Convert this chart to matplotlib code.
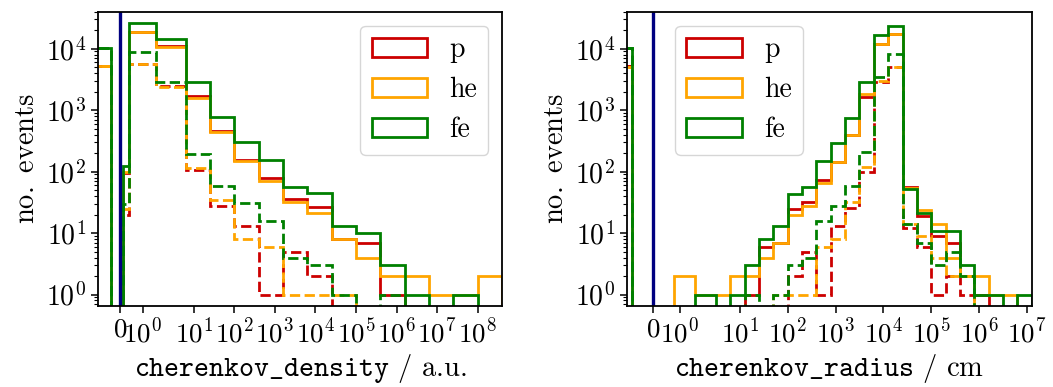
import numpy as np
import matplotlib
matplotlib.use("Agg")
import matplotlib.pyplot as plt

plt.rcParams["font.family"] = "serif"
plt.rcParams["font.serif"] = ["cmr10"]
plt.rcParams["mathtext.fontset"] = "cm"
plt.rcParams["axes.formatter.use_mathtext"] = True

## bin edges (data units), negative bin holds the -1 "no cherenkov" events
density_edges = [-1.585, -0.398, 0.1, 0.398, 1.585, 6.31, 25.1, 100, 398, 1585,
                 6310, 25119, 1e5, 3.98e5, 1.585e6, 6.31e6, 2.51e7, 1e8, 3.98e8]
radius_edges = [-1.585, -0.794, 0.794, 1.585, 3.16, 6.31, 12.6, 25.1, 50.1, 100,
                200, 398, 794, 1585, 3162, 6310, 12589, 25119, 50119, 1e5,
                2e5, 3.98e5, 7.94e5, 1.585e6, 3.16e6, 6.31e6, 1.26e7]

## cherenkov_density counts, solid = all events, dashed = selected events
density_p = [5300, 0, 95, 19000, 10900, 1690, 460, 155, 78, 36, 27, 8, 7, 1, 0, 0, 0, 0]
density_he = [5200, 0, 100, 18700, 10500, 1600, 447, 150, 71, 32, 21, 8, 4, 2, 2, 1, 1, 2]
density_fe = [10200, 0, 124, 26500, 14400, 2860, 776, 307, 154, 57, 45, 13, 10, 3, 1, 0, 1, 0]
density_p_sel = [5300, 0, 20, 5700, 2450, 106, 28, 13, 1, 5, 2, 0, 0, 0, 0, 0, 0, 0]
density_he_sel = [5200, 0, 25, 5690, 2400, 114, 35, 8, 6, 1, 1, 1, 0, 0, 0, 0, 0, 0]
density_fe_sel = [10200, 0, 30, 8830, 2860, 193, 59, 31, 16, 4, 3, 1, 0, 1, 0, 0, 0, 0]

## cherenkov_radius counts
radius_p = [5250, 0, 0, 0, 0, 0, 1, 6, 7, 25, 32, 74, 145, 400, 1660, 12000, 17500,
            57, 19, 9, 7, 2, 1, 0, 0, 0]
radius_he = [5100, 0, 2, 1, 1, 2, 2, 4, 7, 20, 28, 66, 142, 400, 1830, 11900, 17300,
             54, 24, 14, 4, 2, 2, 1, 1, 0]
radius_fe = [10200, 0, 0, 1, 0, 1, 3, 8, 13, 44, 57, 147, 288, 736, 2900, 16900, 23600,
             53, 21, 11, 11, 3, 1, 1, 0, 1]
radius_p_sel = [5250, 0, 0, 0, 0, 0, 0, 0, 0, 2, 5, 1, 13, 26, 100, 2900, 5100,
                12, 6, 1, 2, 1, 0, 0, 0, 0]
radius_he_sel = [5100, 0, 0, 0, 0, 0, 0, 0, 1, 1, 1, 6, 8, 32, 117, 3000, 5100,
                 14, 9, 4, 2, 2, 0, 0, 0, 0]
radius_fe_sel = [10200, 0, 0, 0, 0, 0, 1, 0, 1, 3, 4, 16, 28, 58, 206, 3500, 8200,
                 14, 7, 3, 5, 2, 0, 0, 0, 0]

labels = ("p", "he", "fe")
colors = ("#cc0000", "orange", "green")
FS = 20


def plot_panel(ax, edges, solid, dashed, xlabel, xmax, legend_kw):
    left = edges[:-1]
    # one particle after the other: all events (solid), then selected (dashed)
    for all_c, sel_c, c, lab in zip(solid, dashed, colors, labels):
        ax.hist(left, bins=edges, weights=sel_c, histtype="step",
                color=c, lw=2, linestyle="dashed")
        ax.hist(left, bins=edges, weights=all_c, histtype="step",
                color=c, lw=2, label=lab)
    ax.axvline(0, color="navy", lw=2.4)
    ax.set_xscale("symlog", linthresh=2)
    ax.set_yscale("log")
    ax.set_xlim(-1, xmax)
    ax.set_ylim(0.65, 4.0e4)
    ax.set_xlabel(xlabel, fontsize=FS + 0.5, labelpad=3)
    ax.set_ylabel(r"no.$\,$ events", fontsize=FS + 0.5)
    ax.tick_params(axis="y", which="major", labelsize=FS, length=5, width=1.1)
    ax.tick_params(axis="x", which="major", labelsize=FS - 0.5, length=5, width=1.1)
    ax.tick_params(axis="both", which="minor", length=3, width=0.8)
    for s in ax.spines.values():
        s.set_linewidth(1.3)
    ax.legend(fontsize=FS, **legend_kw)


fig = plt.figure(figsize=(10.53, 3.87), dpi=100)
ax1 = fig.add_axes([0.0928, 0.2093, 0.3840, 0.7605])
ax2 = fig.add_axes([0.5952, 0.2093, 0.3846, 0.7605])

plot_panel(ax1, density_edges,
           (density_p, density_he, density_fe),
           (density_p_sel, density_he_sel, density_fe_sel),
           r"$\mathtt{cherenkov\_density}$ / a.u.", 3.98e8,
           dict(loc="upper right"))
plot_panel(ax2, radius_edges,
           (radius_p, radius_he, radius_fe),
           (radius_p_sel, radius_he_sel, radius_fe_sel),
           r"$\mathtt{cherenkov\_radius}$ / cm", 1.26e7,
           dict(loc="upper left", bbox_to_anchor=(0.085, 1.0)))

fig.savefig("out.png", dpi=100)
